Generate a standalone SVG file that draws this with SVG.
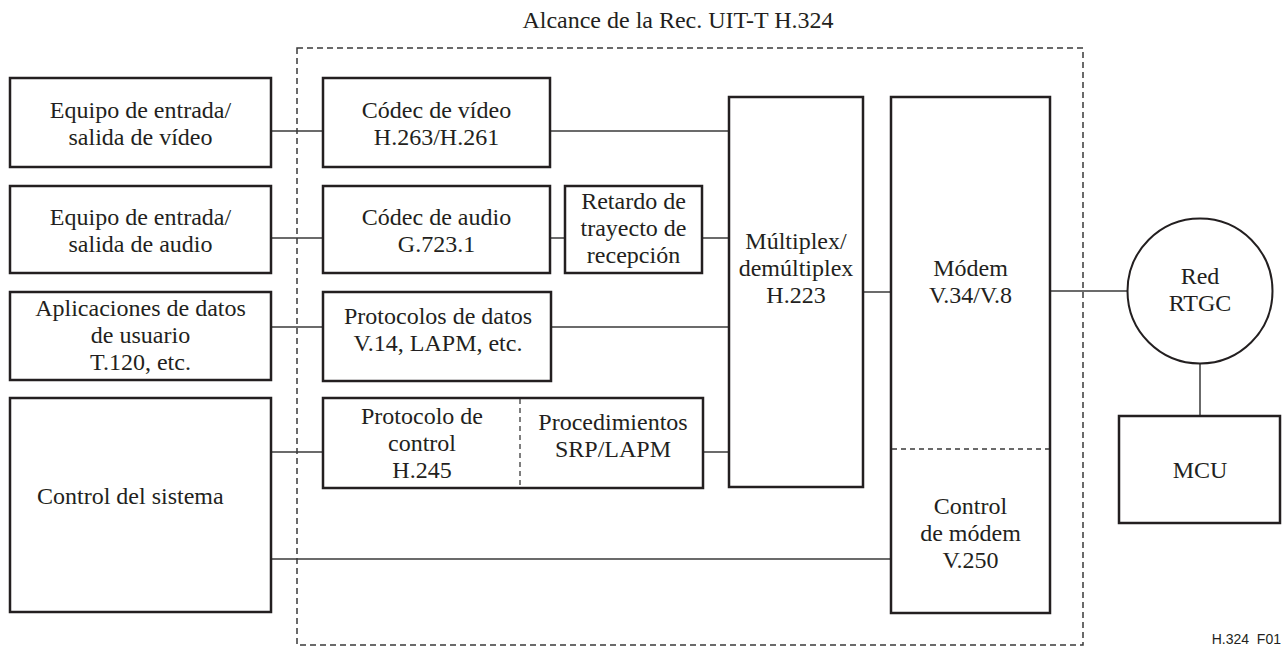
<svg xmlns="http://www.w3.org/2000/svg" width="1284" height="648" viewBox="0 0 1284 648">
<style>
.box{fill:#fff;stroke:#231f20;stroke-width:2.5}
.t{font-family:"Liberation Serif","Times New Roman",serif;font-size:24px;fill:#231f20;text-anchor:middle}
.ln{stroke:#3a3a3a;stroke-width:1.5;fill:none}
.dash{stroke:#3a3a3a;stroke-width:1.5;fill:none;stroke-dasharray:6 4}
.dv{stroke:#3a3a3a;stroke-width:1.3;fill:none;stroke-dasharray:5 4}
</style>
<rect width="1284" height="648" fill="#fff"/>
<g id="scope">
<rect class="dash" x="297" y="48" width="786" height="597"/>
<text class="t" x="678" y="28">Alcance de la Rec. UIT-T H.324</text>
</g>
<g id="connectors">
<line class="ln" x1="271" y1="131" x2="323" y2="131"/>
<line class="ln" x1="550" y1="131" x2="729" y2="131"/>
<line class="ln" x1="271" y1="238" x2="323" y2="238"/>
<line class="ln" x1="550" y1="238" x2="565" y2="238"/>
<line class="ln" x1="702" y1="238" x2="729" y2="238"/>
<line class="ln" x1="271" y1="327" x2="323" y2="327"/>
<line class="ln" x1="551" y1="327" x2="729" y2="327"/>
<line class="ln" x1="271" y1="452" x2="323" y2="452"/>
<line class="ln" x1="703" y1="452" x2="729" y2="452"/>
<line class="ln" x1="863" y1="292" x2="891" y2="292"/>
<line class="ln" x1="1050" y1="291" x2="1128" y2="291"/>
<line class="ln" x1="271" y1="559" x2="891" y2="559"/>
<line class="ln" x1="1200" y1="363" x2="1200" y2="416"/>
</g>
<g id="equipo-video">
<rect class="box" x="10" y="78" width="261" height="89"/>
<text class="t" x="140.5" y="118">Equipo de entrada/</text>
<text class="t" x="140.5" y="145">salida de vídeo</text>
</g>
<g id="equipo-audio">
<rect class="box" x="10" y="186" width="261" height="87"/>
<text class="t" x="140.5" y="225">Equipo de entrada/</text>
<text class="t" x="140.5" y="252">salida de audio</text>
</g>
<g id="aplicaciones">
<rect class="box" x="10" y="292" width="261" height="88"/>
<text class="t" x="140.5" y="316">Aplicaciones de datos</text>
<text class="t" x="140.5" y="343">de usuario</text>
<text class="t" x="140.5" y="370">T.120, etc.</text>
</g>
<g id="control-sistema">
<rect class="box" x="10" y="398" width="261" height="214"/>
<text class="t" x="37" y="504" style="text-anchor:start">Control del sistema</text>
</g>
<g id="codec-video">
<rect class="box" x="323" y="78" width="227" height="89"/>
<text class="t" x="436.5" y="118">Códec de vídeo</text>
<text class="t" x="436.5" y="145">H.263/H.261</text>
</g>
<g id="codec-audio">
<rect class="box" x="323" y="186" width="227" height="87"/>
<text class="t" x="436.5" y="225">Códec de audio</text>
<text class="t" x="436.5" y="252">G.723.1</text>
</g>
<g id="retardo">
<rect class="box" x="565" y="186" width="137" height="87"/>
<text class="t" x="633.5" y="209">Retardo de</text>
<text class="t" x="633.5" y="236">trayecto de</text>
<text class="t" x="633.5" y="263">recepción</text>
</g>
<g id="protocolos-datos">
<rect class="box" x="323" y="292" width="228" height="89"/>
<text class="t" x="438" y="324">Protocolos de datos</text>
<text class="t" x="438" y="351">V.14, LAPM, etc.</text>
</g>
<g id="protocolo-control">
<rect class="box" x="323" y="398" width="380" height="90"/>
<line class="dv" x1="520" y1="399" x2="520" y2="487"/>
<text class="t" x="422" y="424">Protocolo de</text>
<text class="t" x="422" y="451">control</text>
<text class="t" x="422" y="478">H.245</text>
<text class="t" x="613" y="430">Procedimientos</text>
<text class="t" x="613" y="457">SRP/LAPM</text>
</g>
<g id="multiplex">
<rect class="box" x="729" y="97" width="134" height="390"/>
<text class="t" x="796" y="249">Múltiplex/</text>
<text class="t" x="796" y="276">demúltiplex</text>
<text class="t" x="796" y="303">H.223</text>
</g>
<g id="modem">
<rect class="box" x="891" y="97" width="159" height="516"/>
<line class="dv" x1="892" y1="449" x2="1049" y2="449"/>
<text class="t" x="970.5" y="276">Módem</text>
<text class="t" x="970.5" y="303">V.34/V.8</text>
<text class="t" x="970.5" y="514">Control</text>
<text class="t" x="970.5" y="541">de módem</text>
<text class="t" x="970.5" y="568">V.250</text>
</g>
<g id="red-rtgc">
<circle cx="1200" cy="291" r="72.5" fill="#fff" stroke="#231f20" stroke-width="2"/>
<text class="t" x="1200" y="284">Red</text>
<text class="t" x="1200" y="311">RTGC</text>
</g>
<g id="mcu">
<rect class="box" x="1119" y="416" width="161" height="107"/>
<text class="t" x="1200" y="478">MCU</text>
</g>
<text x="1281" y="644" xml:space="preserve" style="font-family:'Liberation Sans',Arial,sans-serif;font-size:14px;fill:#231f20;text-anchor:end">H.324  F01</text>
</svg>
